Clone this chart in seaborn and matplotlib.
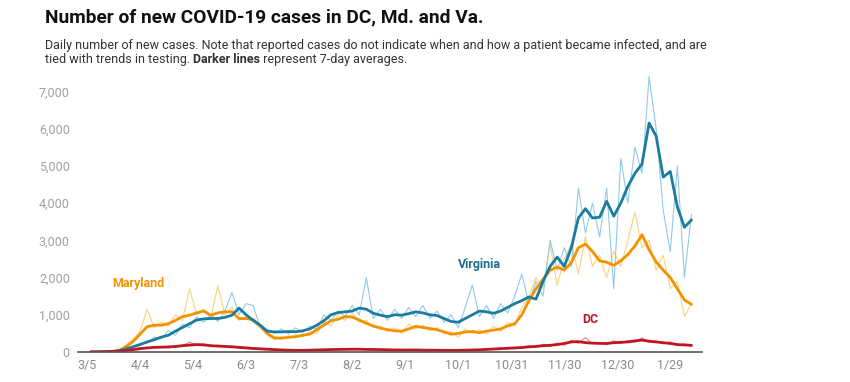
import pandas as pd
import seaborn as sns
import matplotlib.pyplot as plt

# values every 4 days from 3/7/2020
start_date = '2020-03-07'
step_days = 4

va_daily = [0, 2, 10, 20, 50, 90, 150, 230, 250, 400, 350, 580, 450, 750, 650, 950,
            800, 1000, 820, 1100, 1600, 1000, 1300, 1250, 650, 600, 500, 620, 480, 650,
            520, 700, 600, 1000, 850, 1100, 950, 1250, 1000, 2000, 900, 1150, 850, 1150,
            900, 1200, 950, 1250, 900, 1100, 800, 1000, 650, 1200, 1800, 950, 1250, 900,
            1300, 1050, 1500, 2100, 1300, 1900, 1500, 3000, 2200, 2800, 2300, 4400, 3200,
            4000, 3100, 4400, 1700, 5200, 4000, 5500, 4800, 7400, 6000, 3800, 2700, 5000,
            2000, 3700]
va_avg = [0, 0, 5, 15, 30, 80, 140, 200, 270, 330, 400, 450, 560, 660, 760, 860,
          890, 900, 900, 930, 990, 1180, 1000, 850, 720, 560, 540, 540, 550, 545,
          570, 620, 720, 840, 1000, 1060, 1080, 1100, 1180, 1150, 1040, 990, 950, 1000,
          990, 1030, 1080, 1050, 1000, 980, 900, 820, 800, 900, 1000, 1100, 1080, 1040,
          1100, 1200, 1300, 1380, 1480, 1420, 1900, 2300, 2550, 2300, 2800, 3600, 3850,
          3600, 3620, 4050, 3650, 4000, 4450, 4800, 5050, 6150, 5800, 4700, 4850, 3900,
          3350, 3550]

md_daily = [0, 5, 15, 25, 60, 180, 350, 550, 1150, 650, 800, 700, 1000, 850, 1700, 1000,
            1150, 900, 1780, 1000, 1200, 850, 950, 800, 650, 450, 330, 420, 350, 470,
            400, 550, 500, 800, 700, 1000, 850, 1050, 800, 850, 650, 700, 550, 650,
            500, 750, 620, 720, 560, 650, 480, 550, 400, 620, 500, 600, 480, 700,
            560, 800, 700, 1200, 1500, 2000, 1700, 2900, 1800, 2500, 2900, 2100, 3100,
            2300, 2600, 2000, 2700, 2300, 3000, 3750, 2800, 3000, 2200, 2600, 1700, 1900,
            950, 1300]
md_avg = [0, 0, 5, 15, 40, 140, 280, 480, 680, 720, 720, 760, 850, 950, 990, 1050,
          1100, 990, 1050, 1080, 1080, 900, 900, 870, 700, 500, 380, 370, 400, 410,
          450, 480, 600, 720, 840, 880, 950, 940, 860, 770, 700, 640, 600, 570,
          560, 620, 690, 660, 630, 600, 540, 480, 500, 540, 550, 520, 560, 590,
          620, 700, 760, 1000, 1380, 1700, 1950, 2200, 2280, 2200, 2400, 2800, 2900,
          2700, 2450, 2410, 2330, 2450, 2620, 2850, 3150, 2750, 2420, 2200, 2000, 1700,
          1400, 1280]

dc_daily = [0, 5, 10, 20, 30, 50, 60, 110, 90, 150, 120, 160, 130, 180, 260, 190,
            220, 150, 180, 130, 160, 110, 130, 80, 100, 60, 80, 45, 60, 35,
            55, 40, 65, 50, 80, 60, 85, 65, 90, 60, 80, 55, 70, 45,
            65, 45, 70, 40, 60, 35, 55, 35, 55, 40, 70, 50, 85, 65,
            110, 80, 130, 100, 160, 120, 210, 150, 240, 180, 320, 230, 390,
            220, 260, 190, 300, 230, 310, 260, 380, 260, 300, 220, 270, 170,
            220, 150]
dc_avg = [0, 3, 10, 15, 25, 40, 65, 90, 110, 125, 130, 135, 150, 170, 185, 200,
          190, 170, 160, 150, 140, 125, 110, 95, 85, 75, 65, 55, 50, 45,
          45, 50, 55, 60, 65, 70, 72, 75, 75, 70, 68, 65, 60, 55,
          55, 55, 55, 50, 50, 48, 45, 45, 45, 50, 55, 60, 70, 80,
          90, 100, 110, 120, 140, 150, 170, 180, 200, 230, 270, 280, 250,
          240, 230, 230, 250, 260, 270, 300, 320, 290, 270, 250, 230, 200,
          190, 180]

dates = pd.date_range(start_date, periods=len(va_avg), freq=f'{step_days}D')
tick_dates = pd.date_range('2020-03-05', periods=12, freq='30D')
tick_labels = [f'{d.month}/{d.day}' for d in tick_dates]
y_ticks = [0, 1000, 2000, 3000, 4000, 5000, 6000, 7000]

sns.set_style('white')
plt.rcParams['font.family'] = ['Roboto', 'DejaVu Sans']

fig = plt.figure(figsize=(8.5, 3.82), dpi=100)
ax = fig.add_axes([0.092, 0.0785, 0.734, 0.726])

sns.lineplot(x=dates, y=md_daily, color='#fcd27f', lw=0.8, ax=ax)
sns.lineplot(x=dates, y=va_daily, color='#8fcbe9', lw=0.8, ax=ax)
sns.lineplot(x=dates, y=dc_daily, color='#ee7e86', lw=0.8, ax=ax)
sns.lineplot(x=dates, y=md_avg, color='#f39200', lw=2.0, ax=ax)
sns.lineplot(x=dates, y=va_avg, color='#1d7c9e', lw=2.0, ax=ax)
sns.lineplot(x=dates, y=dc_avg, color='#c01622', lw=2.0, ax=ax)

ax.set_xlim(pd.Timestamp('2020-02-29'), pd.Timestamp('2021-02-16'))
ax.set_ylim(0, 7450)
ax.set_xticks(tick_dates)
ax.set_xticklabels(tick_labels)
ax.set_yticks(y_ticks)
ax.set_yticklabels([f'{v:,}' for v in y_ticks])
ax.tick_params(axis='x', length=0, labelsize=9, labelcolor='#8a8a8a', pad=5)
ax.tick_params(axis='y', length=3, width=0.6, color='#cccccc', labelsize=9,
               labelcolor='#a0a0a0', pad=3)
for side in ['left', 'right', 'top']:
    ax.spines[side].set_visible(False)
ax.spines['bottom'].set_color('#555555')
ax.spines['bottom'].set_linewidth(1.2)
ax.set_xlabel('')
ax.set_ylabel('')

ax.text(pd.Timestamp('2020-03-19'), 1845, 'Maryland', color='#f39200',
        fontsize=9, fontweight='bold', va='center')
ax.text(pd.Timestamp('2020-10-01'), 2350, 'Virginia', color='#1d6e8d',
        fontsize=9, fontweight='bold', va='center')
ax.text(pd.Timestamp('2020-12-10'), 880, 'DC', color='#c01622',
        fontsize=9, fontweight='bold', va='center')

fig.text(0.053, 0.955, 'Number of new COVID-19 cases in DC, Md. and Va.',
         fontsize=13.8, fontweight='bold', color='#111111', va='center')
sub_size = 9.0
line1_y = 0.882
line2_y = 0.843
fig.text(0.053, line1_y, 'Daily number of new cases. Note that reported cases do not '
         'indicate when and how a patient became infected, and are',
         fontsize=sub_size, color='#333333', va='center')
t = fig.text(0.053, line2_y, 'tied with trends in testing. ', fontsize=sub_size,
             color='#333333', va='center')
fig.canvas.draw()
bb = t.get_window_extent()
b = fig.text(bb.x1 / fig.bbox.width, line2_y, 'Darker lines', fontsize=sub_size,
             fontweight='bold', color='#333333', va='center')
fig.canvas.draw()
bb2 = b.get_window_extent()
fig.text(bb2.x1 / fig.bbox.width, line2_y, ' represent 7-day averages.',
         fontsize=sub_size, color='#333333', va='center')

fig.savefig('out.png', dpi=100)
